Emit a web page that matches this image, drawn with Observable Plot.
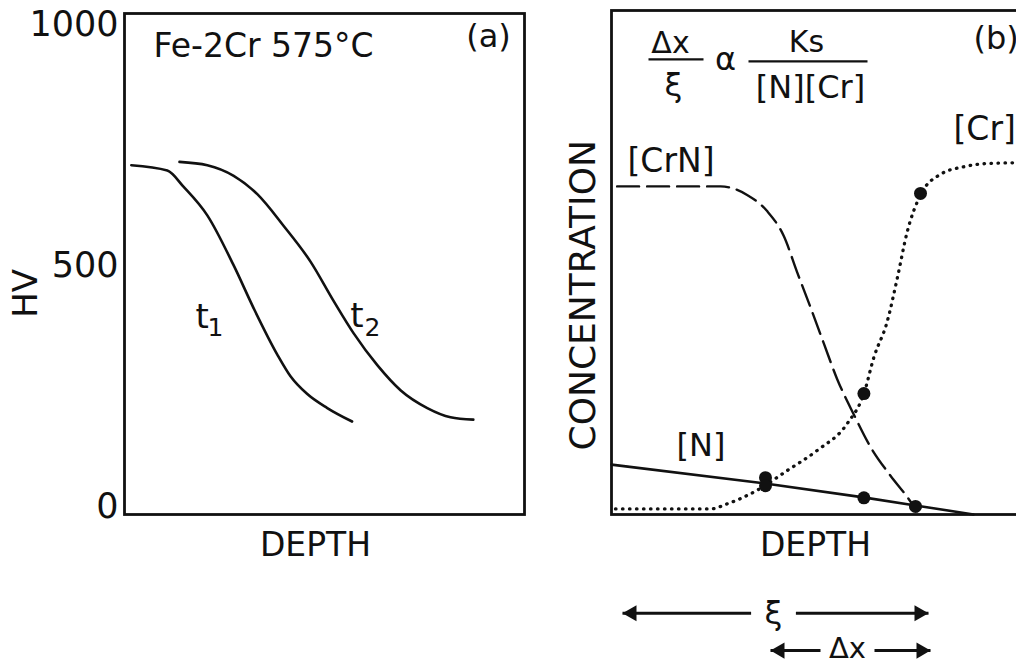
<!DOCTYPE html>
<html><head><meta charset="utf-8">
<script src="https://cdn.jsdelivr.net/npm/d3@7"></script>
<script src="https://cdn.jsdelivr.net/npm/@observablehq/plot@0.6"></script>
<style>
html,body{margin:0;padding:0;background:#fff;overflow:hidden;}
#wrap{position:relative;width:1016px;height:662px;overflow:hidden;background:#fff;}
#a{position:absolute;left:0;top:0;width:540px;height:560px;}
#b{position:absolute;left:540px;top:0;width:500px;height:662px;}
svg{overflow:visible;max-width:none !important;}
</style></head><body><div id="wrap"><div id="a"></div><div id="b"></div></div>
<script>
// ---------- Panel (a): hardness HV vs depth ----------
const hvTicks = [0, 500, 1000];
const t1Depth = [1.7, 10.7, 14.8, 20.7, 27.3, 32.3, 38.2, 41.5, 45.7, 50.7, 56.9];
const t1HV    = [708, 697, 663, 604, 500, 411, 315, 270, 233, 204, 176];
const t2Depth = [13.75, 20.7, 27.3, 33.2, 39.8, 46.5, 52.3, 57.3, 63.2, 69, 75.7, 81.5, 87.2];
const t2HV    = [715, 708, 686, 648, 582, 508, 426, 359, 293, 241, 204, 185, 180];

// ---------- Panel (b): concentration profiles vs depth ----------
const nDepth   = [0, 38, 63, 76, 90.5];
const nConc    = [9.9, 6.2, 3.4, 1.8, 0];
const crDepth  = [1, 24.75, 28.9, 36.4, 43.9, 51.4, 58.9, 63.1, 65.6, 68.9, 71.4, 73.9, 77.25, 82.25, 88.1, 95.6, 104];
const crConc   = [1.1, 1.1, 2.1, 4.8, 8.7, 12.7, 18.0, 24.0, 31.2, 38.2, 46.7, 56.0, 63.4, 67.5, 69.0, 69.7, 69.8];
const crnDepth = [1.4, 27.25, 33.9, 38.9, 43.1, 46.4, 49.75, 53.1, 56.4, 60.6, 64.75, 69.75, 73.9, 76.4];
const crnConc  = [65.1, 65.1, 63.4, 60.2, 55.2, 48.1, 41.1, 33.9, 26.9, 19.8, 13.4, 7.7, 3.5, 0.65];
const markDepth = [38.5, 38.5, 63.1, 77.25, 63.1, 76];
const markConc  = [7.3, 5.7, 24.0, 63.7, 3.3, 1.6];
// spans shown under panel (b)
const xiSpan = [2.75, 79.25], xiLabelAt = 40.5, xiGap = 5.6, xiLevel = -19.6;
const dxSpan = [39.75, 79.75], dxLabelAt = 59, dxGap = 6.75, dxLevel = -27;

const FONT = "DejaVu Sans";
const ink = "#111";
const zip = (xs, ys, kx, ky) => xs.map((v, i) => ({[kx]: v, [ky]: ys[i]}));

const t1 = zip(t1Depth, t1HV, "depth", "hv");
const t2 = zip(t2Depth, t2HV, "depth", "hv");

const labelsA = [
  {depth: 7.25, hv: 954, text: "Fe-2Cr 575°C", anchor: "start", size: 33},
  {depth: 91, hv: 975, text: "(a)", anchor: "middle", size: 32},
  {depth: 19.4, hv: 392, text: "t", anchor: "middle", size: 34},
  {depth: 22.75, hv: 371, text: "1", anchor: "middle", size: 25},
  {depth: 58.1, hv: 394, text: "t", anchor: "middle", size: 34},
  {depth: 62, hv: 371, text: "2", anchor: "middle", size: 25},
  {depth: 47.75, hv: -81, text: "DEPTH", anchor: "middle", size: 33}
];
const textMarks = (data, x, y) => ["start", "middle", "end"].map(a =>
  Plot.text(data.filter(d => d.anchor === a), {x, y, text: "text", textAnchor: a, fontSize: "size", fill: ink}));

const plotA = Plot.plot({
  width: 540, height: 560,
  marginLeft: 124, marginRight: 16, marginTop: 13, marginBottom: 46,
  x: {domain: [0, 100], axis: null},
  y: {domain: [-17, 1023], axis: null},
  style: {fontFamily: FONT, fontSize: "34px", color: ink, background: "transparent"},
  marks: [
    Plot.frame({stroke: ink, strokeWidth: 2.8}),
    Plot.axisY({ticks: hvTicks, tickSize: 0, tickPadding: 6, fontSize: 35, label: null, tickFormat: d => String(d)}),
    Plot.line(t1, {x: "depth", y: "hv", curve: "monotone-x", stroke: ink, strokeWidth: 2.6}),
    Plot.line(t2, {x: "depth", y: "hv", curve: "monotone-x", stroke: ink, strokeWidth: 2.6}),
    ...textMarks(labelsA, "depth", "hv"),
    Plot.text([{depth: -24.5, hv: 442}], {x: "depth", y: "hv", text: () => "HV", rotate: -90, fontSize: 34, fill: ink})
  ]
});
document.getElementById("a").appendChild(plotA);

// ---------- panel (b) ----------
const nLine = zip(nDepth, nConc, "depth", "c");
const crLine = zip(crDepth, crConc, "depth", "c");
const crnLine = zip(crnDepth, crnConc, "depth", "c");
const marks = zip(markDepth, markConc, "depth", "c");

const pxPerUnit = 4; // x scale: 420px for 105 units
const headR = 6;
const headTip = 2 * Math.sqrt(headR * headR * Math.PI / (Math.sqrt(3) * 3)) / pxPerUnit;
const spanSegs = [
  {x1: xiSpan[0], x2: xiLabelAt - xiGap, y: xiLevel},
  {x1: xiLabelAt + xiGap, x2: xiSpan[1], y: xiLevel},
  {x1: dxSpan[0], x2: dxLabelAt - dxGap, y: dxLevel},
  {x1: dxLabelAt + dxGap, x2: dxSpan[1], y: dxLevel}
];
const heads = [
  {x: xiSpan[0] + headTip, y: xiLevel, rot: -90},
  {x: xiSpan[1] - headTip, y: xiLevel, rot: 90},
  {x: dxSpan[0] + headTip, y: dxLevel, rot: -90},
  {x: dxSpan[1] - headTip, y: dxLevel, rot: 90}
];

const labelsB = [
  {depth: 14.75, c: 93.5, text: "Δx", anchor: "middle", size: 30},
  {depth: 15.5, c: 85.0, text: "ξ", anchor: "middle", size: 32},
  {depth: 28.5, c: 90.3, text: "α", anchor: "middle", size: 32},
  {depth: 48.75, c: 93.6, text: "Ks", anchor: "middle", size: 30},
  {depth: 49.75, c: 84.7, text: "[N][Cr]", anchor: "middle", size: 32},
  {depth: 90.5, c: 94.3, text: "(b)", anchor: "start", size: 32},
  {depth: 85.5, c: 76.5, text: "[Cr]", anchor: "start", size: 33},
  {depth: 4, c: 70.1, text: "[CrN]", anchor: "start", size: 33},
  {depth: 16.25, c: 13.7, text: "[N]", anchor: "start", size: 32},
  {depth: 51, c: -6.15, text: "DEPTH", anchor: "middle", size: 33},
  {depth: xiLabelAt, c: xiLevel, text: "ξ", anchor: "middle", size: 32},
  {depth: dxLabelAt, c: dxLevel + 0.4, text: "Δx", anchor: "middle", size: 29}
];
const bars = [
  {x1: 9.25, x2: 23, c: 90.3},
  {x1: 34.25, x2: 64, c: 89.9}
];

const plotB = Plot.plot({
  width: 500, height: 662,
  marginLeft: 71, marginRight: 9, marginTop: 10, marginBottom: 148,
  x: {domain: [0, 105], axis: null},
  y: {domain: [0, 100], axis: null},
  style: {fontFamily: FONT, fontSize: "34px", color: ink, background: "transparent"},
  marks: [
    Plot.frame({stroke: ink, strokeWidth: 2.8}),
    Plot.line(nLine, {x: "depth", y: "c", stroke: ink, strokeWidth: 2.6}),
    Plot.line(crnLine, {x: "depth", y: "c", curve: "monotone-x", stroke: ink, strokeWidth: 2.4, strokeDasharray: "22,8"}),
    Plot.line(crLine, {x: "depth", y: "c", curve: "monotone-x", stroke: ink, strokeWidth: 3.3, strokeDasharray: "0.5,6.5", strokeLinecap: "round"}),
    Plot.dot(marks, {x: "depth", y: "c", r: 6.5, fill: ink, stroke: null}),
    Plot.link(bars, {x1: "x1", x2: "x2", y1: "c", y2: "c", stroke: ink, strokeWidth: 2.4}),
    Plot.link(spanSegs, {x1: "x1", x2: "x2", y1: "y", y2: "y", stroke: ink, strokeWidth: 3}),
    Plot.dot(heads, {x: "x", y: "y", symbol: "triangle", r: headR, rotate: "rot", fill: ink, stroke: null}),
    ...textMarks(labelsB, "depth", "c"),
    Plot.text([{depth: -7, c: 43.5}], {x: "depth", y: "c", text: () => "CONCENTRATION", rotate: -90, fontSize: 36, fill: ink})
  ]
});
document.getElementById("b").appendChild(plotB);
</script>
</body></html>
